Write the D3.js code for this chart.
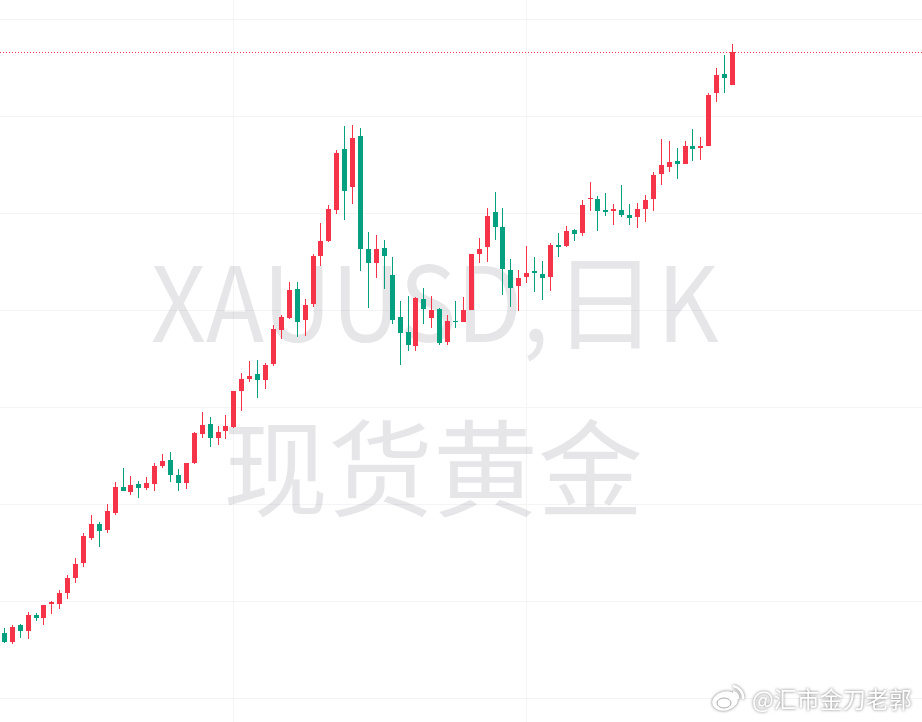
<!DOCTYPE html>
<html>
<head>
<meta charset="utf-8">
<style>
  html, body { margin: 0; padding: 0; background: #fff; }
  svg { display: block; }
</style>
<script src="https://cdnjs.cloudflare.com/ajax/libs/d3/7.8.5/d3.min.js"></script>
</head>
<body>
<div id="vis"></div>
<script>
// daily candles, prices estimated from the grid spacing
const opens = [3334,3315,3351,3338,3371,3365,3394,3394,3416,3447,3478,3530,3559,3546,3581,3635,3625,3641,3633,3641,3678,3691,3660,3643,3685,3744,3765,3736,3751,3759,3833,3858,3868,3856,3889,3959,3983,4043,3979,4012,4111,4142,4206,4332,4254,4359,4126,4097,4128,4072,3986,3955,3926,4023,3983,4002,3934,3977,3975,4000,4115,4130,4202,4171,4082,4049,4068,4080,4074,4068,4134,4132,4165,4159,4229,4229,4206,4204,4206,4196,4192,4208,4229,4280,4295,4307,4301,4338,4334,4338,4447,4487,4464];
const highs = [3344,3350,3353,3377,3375,3392,3399,3423,3454,3489,3540,3577,3563,3600,3645,3674,3658,3647,3656,3685,3703,3707,3672,3685,3748,3790,3779,3761,3783,3833,3870,3895,3897,3891,3969,3990,4058,4058,4023,4115,4179,4216,4330,4379,4381,4375,4161,4155,4144,4109,4018,4029,4027,4045,4029,4004,3990,4018,4027,4115,4148,4210,4243,4210,4105,4082,4132,4109,4101,4138,4159,4173,4167,4227,4264,4235,4241,4219,4258,4219,4221,4237,4285,4353,4348,4334,4348,4373,4357,4447,4499,4526,4548];
const lows = [3313,3311,3324,3322,3359,3351,3373,3383,3404,3437,3470,3526,3511,3540,3577,3627,3619,3612,3629,3627,3674,3645,3627,3631,3682,3736,3717,3722,3734,3757,3792,3852,3819,3837,3885,3940,3981,3944,3946,4006,4091,4140,4198,4186,4219,4080,4004,4066,4043,3971,3887,3915,3915,3971,3963,3928,3928,3963,3975,4000,4097,4099,4144,4031,4006,3998,4056,4037,4021,4039,4109,4130,4142,4153,4204,4163,4194,4175,4192,4175,4169,4181,4204,4258,4285,4270,4301,4307,4309,4338,4429,4447,4464];
const closes = [3315,3346,3338,3371,3365,3392,3397,3416,3447,3476,3534,3559,3544,3586,3635,3627,3639,3633,3643,3678,3689,3660,3643,3685,3746,3763,3736,3748,3761,3833,3858,3864,3856,3887,3961,3986,4041,3975,4010,4111,4142,4208,4324,4245,4355,4126,4097,4126,4111,3979,3952,3928,4025,4002,4000,3932,3977,3975,4000,4115,4126,4194,4171,4085,4045,4066,4076,4076,4066,4134,4130,4163,4157,4216,4231,4204,4202,4208,4196,4190,4208,4227,4278,4299,4305,4301,4338,4332,4338,4443,4485,4478,4532];

const priceTicks = [3200,3400,3600,3800,4000,4200,4400,4600];
const timeTicks = [29,66]; // candle index of the two vertical grid lines
const symbolText = "XAUUSD,";
const periodText = ["日","K"];
const nameText = "现货黄金";
const creditText = "@汇市金刀老郭";

const width = 922, height = 722;
const upColor = "#f63449", downColor = "#05a07f", gridColor = "#f3f4f5";
const bodyWidth = 5;

const svg = d3.select("#vis").append("svg")
  .attr("width", width)
  .attr("height", height);

const x = d3.scaleLinear().domain([0, closes.length - 1]).range([4.36, 732.52]);
const y = d3.scaleLinear().domain([3200, 4600]).range([698, 19]);

const wickLeft = i => Math.floor(x(i));
const crisp = v => Math.round(v) + 0.5;

// grid
svg.append("g").selectAll("line")
  .data(priceTicks)
  .join("line")
  .attr("x1", 0).attr("x2", width)
  .attr("y1", d => crisp(y(d))).attr("y2", d => crisp(y(d)))
  .attr("stroke", gridColor);

svg.append("g").selectAll("line")
  .data(timeTicks)
  .join("line")
  .attr("x1", d => wickLeft(d) + 0.5).attr("x2", d => wickLeft(d) + 0.5)
  .attr("y1", 0).attr("y2", height)
  .attr("stroke", gridColor);

// big watermark behind the candles, latin part is a bit narrower in the original
const mark = svg.append("g")
  .attr("font-family", "'Noto Sans CJK SC',sans-serif")
  .attr("font-size", 104)
  .attr("fill", "rgba(120,123,134,0.19)");

mark.append("text")
  .attr("transform", "translate(151,342) scale(.92,1)")
  .text(symbolText);

mark.append("text")
  .attr("x", 553).attr("y", 342)
  .text(periodText[0]);

mark.append("text")
  .attr("transform", "translate(657,342) scale(.92,1)")
  .text(periodText[1]);

mark.append("text")
  .attr("x", 433).attr("y", 508)
  .attr("text-anchor", "middle")
  .attr("font-size", 105)
  .text(nameText);

// candles
const candle = svg.append("g").selectAll("g")
  .data(d3.range(closes.length))
  .join("g")
  .attr("fill", i => closes[i] >= opens[i] ? upColor : downColor);

candle.append("rect")
  .attr("x", i => wickLeft(i))
  .attr("width", 1)
  .attr("y", i => Math.round(y(highs[i])))
  .attr("height", i => Math.round(y(lows[i])) - Math.round(y(highs[i])));

candle.append("rect")
  .attr("x", i => wickLeft(i) - 2)
  .attr("width", bodyWidth)
  .attr("y", i => Math.round(y(Math.max(opens[i], closes[i]))))
  .attr("height", i => Math.max(1, Math.round(y(Math.min(opens[i], closes[i]))) - Math.round(y(Math.max(opens[i], closes[i])))));

// last price line
const lastY = crisp(y(closes[closes.length - 1]));
svg.append("line")
  .attr("x1", 0).attr("x2", width)
  .attr("y1", lastY).attr("y2", lastY)
  .attr("stroke", upColor)
  .attr("shape-rendering", "crispEdges")
  .attr("stroke-dasharray", "1,2");

// weibo credit, bottom right
const credit = svg.append("g")
  .style("filter", "drop-shadow(0 0 1.5px rgba(0,0,0,.55))");

credit.append("text")
  .attr("x", 752)
  .attr("y", 708)
  .attr("font-family", "'Noto Sans CJK SC',sans-serif")
  .attr("font-size", 23)
  .attr("fill", "#fff")
  .text(creditText);

credit.append("ellipse")
  .attr("cx", 725).attr("cy", 701)
  .attr("rx", 13).attr("ry", 9.5)
  .attr("transform", "rotate(-15 725 701)")
  .attr("fill", "#fff");
credit.append("ellipse")
  .attr("cx", 724).attr("cy", 703)
  .attr("rx", 7).attr("ry", 5)
  .attr("fill", "none").attr("stroke", "#aaa");
credit.append("path")
  .attr("d", "M733 692a6 6 0 0 1 5 7M733 686a12 12 0 0 1 10 13")
  .attr("fill", "none").attr("stroke", "#fff").attr("stroke-width", 2.5);
</script>
</body>
</html>
